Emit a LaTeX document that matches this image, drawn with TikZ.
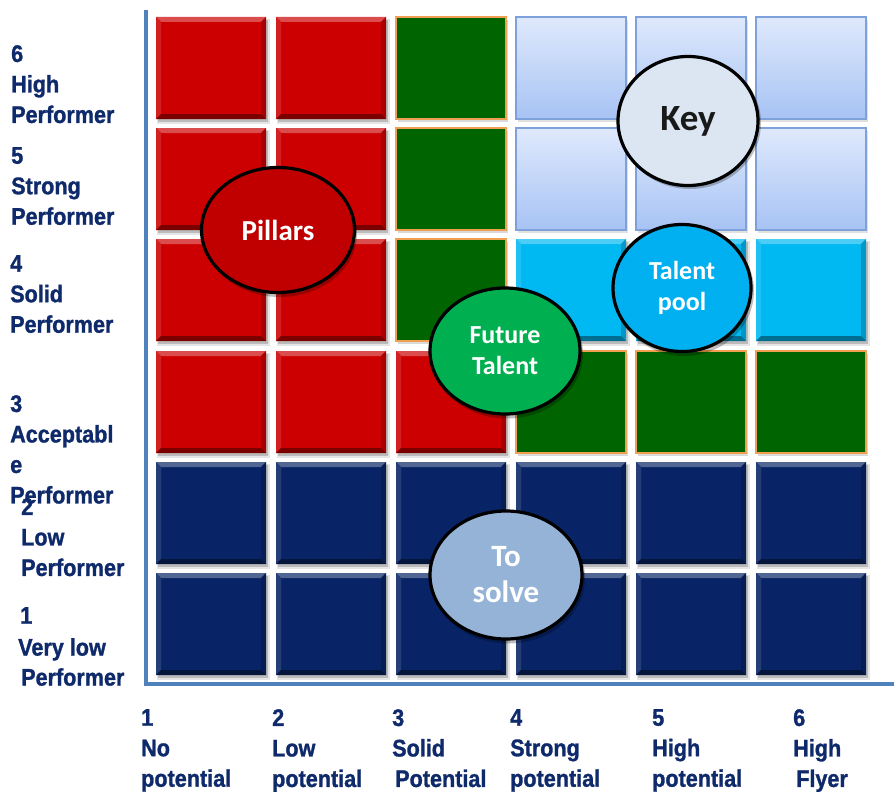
\documentclass[tikz,border=0pt]{standalone}
\usepackage{fontspec}
\usetikzlibrary{shapes.geometric}
\newfontfamily\labfont[FakeStretch=0.9, FakeBold=1.2]{Liberation Sans Bold}
\newfontfamily\ovfont{Carlito}

\definecolor{cellred}{HTML}{CC0000}
\definecolor{cellnavy}{HTML}{082466}
\definecolor{cellcyan}{HTML}{00B8F2}
\definecolor{cellgreen}{HTML}{006400}
\definecolor{greenedge}{HTML}{F0A050}
\definecolor{paletop}{HTML}{DFE9FC}
\definecolor{palebot}{HTML}{A7C3F4}
\definecolor{paleedge}{HTML}{7FA1DB}
\definecolor{axisblue}{HTML}{4F81BD}
\definecolor{labnavy}{HTML}{0F2A6B}
\definecolor{ovred}{HTML}{C00000}
\definecolor{ovkey}{HTML}{DCE6F2}
\definecolor{ovcyan}{HTML}{00B0F0}
\definecolor{ovgreen}{HTML}{00B050}
\definecolor{ovsolve}{HTML}{95B3D7}

% bevelled tile: top-left corner (#1,#2), base colour #3
\newcommand\bevcell[3]{%
  \begin{scope}[shift={(#1,#2)}]
    \fill[black, opacity=0.10] (1,2) rectangle (114,107);
    \fill[black, opacity=0.18] (2,3) rectangle (112,105);
    \fill[#3] (0,0) rectangle (110,102);
    \fill[#3!70!white] (0,0) -- (110,0) -- (105,5) -- (5,5) -- cycle;
    \fill[#3!88!white] (0,0) -- (5,5) -- (5,97) -- (0,102) -- cycle;
    \fill[#3!82!black] (110,0) -- (110,102) -- (105,97) -- (105,5) -- cycle;
    \fill[#3!60!black] (0,102) -- (110,102) -- (105,97) -- (5,97) -- cycle;
  \end{scope}}
% flat green tile
\newcommand\flatcell[2]{%
  \begin{scope}[shift={(#1,#2)}]
    \fill[black, opacity=0.15] (2,3) rectangle (112,105);
    \fill[cellgreen, draw=greenedge, line width=1.2pt] (0,0) rectangle (110,102);
  \end{scope}}
% pale blue gradient tile
\newcommand\palecell[2]{%
  \begin{scope}[shift={(#1,#2)}]
    \fill[black, opacity=0.12] (2,3) rectangle (112,105);
    \shade[top color=paletop, bottom color=palebot, draw=paleedge, line width=1.2pt] (0,0) rectangle (110,102);
  \end{scope}}

\tikzset{
  axisline/.style={draw=axisblue, line width=4pt},
  lab/.style={anchor=north west, inner sep=0pt, align=left, text=labnavy,
    font=\labfont\fontsize{24}{30.5}\selectfont},
  oval/.style={ellipse, draw=black, line width=3.2pt, inner sep=0pt, align=center,
    text=white, font=\ovfont\bfseries},
  ovshadow/.style={ellipse, fill=black, opacity=0.25, inner sep=0pt, draw=none},
}

\begin{document}
\begin{tikzpicture}[x=1pt, y=-1pt]
  \useasboundingbox (0,0) rectangle (894,792);
  \clip (0,0) rectangle (894,792);
  \fill[white] (0,0) rectangle (894,792);

  % axes
  \coordinate (ytop) at (146,10);
  \coordinate (origin) at (146,684);
  \coordinate (xend) at (894,684);
  \draw[axisline] (ytop) -- (origin) -- (xend);

  % tiles
  \foreach \cx in {156,276} {
    \foreach \cy in {17,128,239,351} {\bevcell{\cx}{\cy}{cellred}}
  }
  \bevcell{396}{351}{cellred}
  \foreach \cy in {17,128,239} {\flatcell{396}{\cy}}
  \foreach \cx in {516,636,756} {
    \palecell{\cx}{17}
    \palecell{\cx}{128}
    \bevcell{\cx}{239}{cellcyan}
    \flatcell{\cx}{351}
  }
  \foreach \cx in {156,276,396,516,636,756} {
    \bevcell{\cx}{462}{cellnavy}
    \bevcell{\cx}{573}{cellnavy}
  }

  % ovals with soft shadows
  \node[ovshadow, minimum width=154, minimum height=128] at (280,233) {};
  \node[oval, fill=ovred, minimum width=153, minimum height=125,
        font=\ovfont\bfseries\fontsize{29}{32}\selectfont] (pillars) at (278,230) {Pillars};
  \node[ovshadow, minimum width=142, minimum height=132] at (690,123) {};
  \node[oval, fill=ovkey, text=black!90, minimum width=140, minimum height=129,
        font=\ovfont\bfseries\fontsize{37}{40}\selectfont] (key) at (688,121) {Key};
  \node[ovshadow, minimum width=140, minimum height=130] at (684,291) {};
  \node[oval, fill=ovcyan, minimum width=138, minimum height=127,
        font=\ovfont\bfseries\fontsize{26}{31}\selectfont] (pool) at (682,288) {Talent\\pool};
  \node[ovshadow, minimum width=152, minimum height=129] at (507,354) {};
  \node[oval, fill=ovgreen, minimum width=150, minimum height=126,
        font=\ovfont\bfseries\fontsize{26}{31}\selectfont] (future) at (505,351) {Future\\Talent};
  \node[ovshadow, minimum width=154, minimum height=131] at (508,578) {};
  \node[oval, fill=ovsolve, minimum width=152, minimum height=128,
        font=\ovfont\bfseries\fontsize{31}{36}\selectfont] (solve) at (506,575) {To\\solve};

  % performance axis labels
  \node[lab] (p6) at (11,45)  {6\\High\\Performer};
  \node[lab] (p5) at (11,147) {5\\Strong\\Performer};
  \node[lab] (p4) at (10,255) {4\\Solid\\Performer};
  \node[lab] (p3) at (10,395) {3\\Acceptabl\\e\\Performer};
  \node[lab] (p2) at (21,498) {2\\Low\\Performer};
  \node[lab] (p1v) at (20,607) {1};
  \node[lab] (p1) at (18,638) {Very low};
  \node[lab] (p1b) at (21,668) {Performer};

  % potential axis labels
  \node[lab] (q1) at (141,709) {1\\No\\potential};
  \node[lab] (q2) at (272,709) {2\\Low\\potential};
  \node[lab] (q3) at (392,709) {3\\Solid\\\hspace{3pt}Potential};
  \node[lab] (q4) at (510,709) {4\\Strong\\potential};
  \node[lab] (q5) at (652,709) {5\\High\\potential};
  \node[lab] (q6) at (793,709) {6\\High\\\hspace{3pt}Flyer};
\end{tikzpicture}
\end{document}
